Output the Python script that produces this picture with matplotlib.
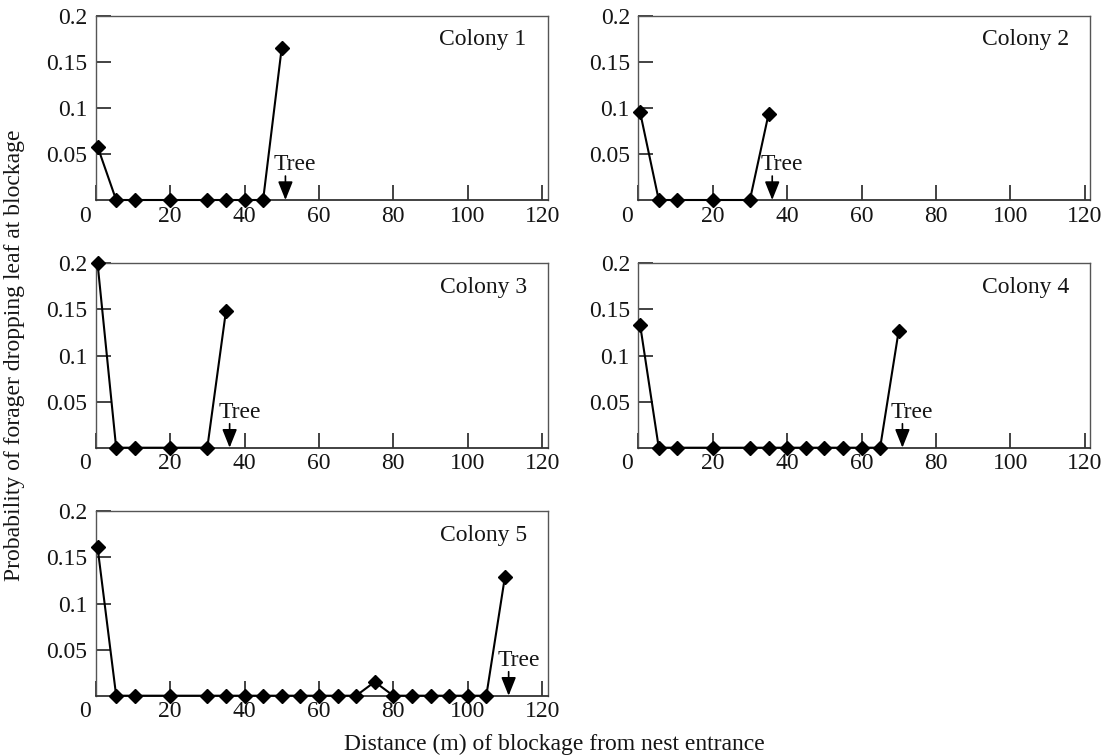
import matplotlib
matplotlib.use("Agg")
import matplotlib.pyplot as plt
from matplotlib.patches import ArrowStyle

plt.rcParams['font.family'] = ['Liberation Serif', 'DejaVu Serif']

# ---------------- data ----------------
colony_names = ["Colony 1", "Colony 2", "Colony 3", "Colony 4", "Colony 5"]

c1_x = [0.5, 5.5, 10.5, 20, 30, 35, 40, 45, 50]
c1_y = [0.058, 0, 0, 0, 0, 0, 0, 0, 0.165]

c2_x = [0.5, 5.5, 10.5, 20, 30, 35]
c2_y = [0.095, 0, 0, 0, 0, 0.093]

c3_x = [0.5, 5.5, 10.5, 20, 30, 35]
c3_y = [0.200, 0, 0, 0, 0, 0.148]

c4_x = [0.5, 5.5, 10.5, 20, 30, 35, 40, 45, 50, 55, 60, 65, 70]
c4_y = [0.133, 0, 0, 0, 0, 0, 0, 0, 0, 0, 0, 0, 0.127]

c5_x = [0.5, 5.5, 10.5, 20, 30, 35, 40, 45, 50, 55, 60, 65, 70, 75, 80,
        85, 90, 95, 100, 105, 110]
c5_y = [0.161, 0, 0, 0, 0, 0, 0, 0, 0, 0, 0, 0, 0, 0.015, 0,
        0, 0, 0, 0, 0, 0.129]

tree_x = [51, 36, 36, 71, 111]

x_ticks = [0, 20, 40, 60, 80, 100, 120]
y_ticks = [0.05, 0.1, 0.15, 0.2]
y_tick_labels = ["0.05", "0.1", "0.15", "0.2"]

xs = [c1_x, c2_x, c3_x, c4_x, c5_x]
ys = [c1_y, c2_y, c3_y, c4_y, c5_y]

# ---------------- figure ----------------
W, H = 1106, 755
fig = plt.figure(figsize=(W / 100, H / 100), dpi=100)

lefts = [95.7, 638.3]
bottoms = [200, 447.7, 695.7]
aw, ah = 452, 184.3

FS = 17
spine_col = '#555555'
txt_col = '#151515'

for i in range(5):
    r, c = divmod(i, 2)
    ax = fig.add_axes([lefts[c] / W, 1 - bottoms[r] / H, aw / W, ah / H])
    ax.plot(xs[i], ys[i], color='black', lw=1.5, marker='D', ms=6.8,
            mfc='black', mec='black', clip_on=False, zorder=5)
    ax.set_xlim(0, 121.5)
    ax.set_ylim(0, 0.2)
    ax.set_xticks(x_ticks)
    ax.set_xticklabels([''] + [str(t) for t in x_ticks[1:]])
    ax.set_yticks(y_ticks)
    ax.set_yticklabels(y_tick_labels)
    ax.tick_params(direction='in', length=11, width=1.2, color='#222222',
                   labelsize=FS, labelcolor=txt_col)
    ax.tick_params(axis='x', pad=4)
    ax.tick_params(axis='y', pad=6)
    for s in ['left', 'top', 'right']:
        ax.spines[s].set_color(spine_col)
        ax.spines[s].set_linewidth(1.0)
    ax.spines['bottom'].set_color('#333333')
    ax.spines['bottom'].set_linewidth(1.3)
    # "0" label placed left of the axis corner
    ax.annotate('0', xy=(0, 0), xycoords=('data', 'axes fraction'),
                xytext=(-8, -4), textcoords='offset points',
                ha='center', va='top', fontsize=FS, color=txt_col)
    # colony name
    ax.text(1 - 21 / aw, 0.84, colony_names[i], transform=ax.transAxes,
            ha='right', va='baseline', fontsize=FS, color=txt_col)
    # tree arrow
    ax.annotate('', xy=(tree_x[i], 0), xytext=(tree_x[i], 0.026),
                arrowprops=dict(arrowstyle=ArrowStyle('-|>', head_length=0.75,
                                                      head_width=0.3),
                                mutation_scale=15, color='black', lw=1.2,
                                shrinkA=0, shrinkB=0))
    ax.annotate('Tree', xy=(tree_x[i], 0.0325), xytext=(7, 0),
                textcoords='offset points', ha='center', va='baseline',
                fontsize=FS, color=txt_col)

fig.text(15 / W, 1 - 355 / H, 'Probability of forager dropping leaf at blockage',
         rotation=90, ha='center', va='center', fontsize=FS, color=txt_col)
fig.text(554 / W, 1 - 744 / H, 'Distance (m) of blockage from nest entrance',
         ha='center', va='center', fontsize=FS, color=txt_col)

fig.savefig('out.png', dpi=100)
